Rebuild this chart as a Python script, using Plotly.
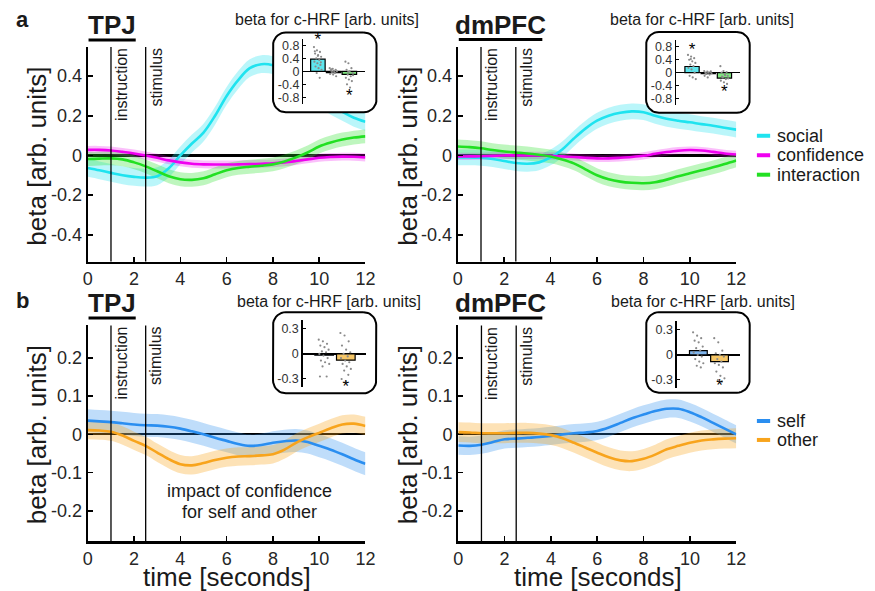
import numpy as np
import plotly.graph_objects as go

W, H = 875, 591
FONT = "Arial, 'Liberation Sans', Helvetica, sans-serif"
TXT = "#1a1a1a"

# ---------------- data ----------------
TIME = [i * 0.5 for i in range(25)]  # seconds, 0..12

# panel a, TPJ
a_tpj_social = [-0.063, -0.075, -0.088, -0.100, -0.108, -0.112, -0.105, -0.065, 0.000, 0.060, 0.115, 0.200,
                0.300, 0.380, 0.440, 0.460, 0.455, 0.430, 0.390, 0.340, 0.290, 0.250, 0.220, 0.190, 0.170]
a_tpj_conf = [0.028, 0.028, 0.025, 0.018, 0.010, 0.000, -0.012, -0.025, -0.035, -0.042, -0.045, -0.046,
              -0.046, -0.045, -0.044, -0.042, -0.040, -0.035, -0.028, -0.020, -0.012, -0.008, -0.006, -0.007, -0.010]
a_tpj_inter = [-0.018, -0.016, -0.015, -0.020, -0.035, -0.055, -0.080, -0.105, -0.120, -0.123, -0.115, -0.095,
               -0.075, -0.063, -0.057, -0.052, -0.045, -0.030, -0.010, 0.015, 0.045, 0.065, 0.080, 0.090, 0.096]
# panel a, dmPFC
a_dm_social = [-0.010, -0.010, -0.012, -0.018, -0.028, -0.038, -0.042, -0.035, -0.010, 0.030, 0.085, 0.135,
               0.175, 0.200, 0.215, 0.222, 0.218, 0.200, 0.185, 0.175, 0.167, 0.158, 0.150, 0.140, 0.130]
a_dm_conf = [-0.005, -0.005, -0.004, -0.002, 0.000, 0.000, 0.000, 0.000, -0.002, -0.005, -0.008, -0.012,
             -0.015, -0.015, -0.012, -0.008, -0.002, 0.008, 0.017, 0.024, 0.027, 0.025, 0.018, 0.010, 0.005]
a_dm_inter = [0.045, 0.042, 0.036, 0.027, 0.020, 0.015, 0.010, 0.003, -0.005, -0.020, -0.040, -0.070,
              -0.100, -0.120, -0.132, -0.138, -0.140, -0.135, -0.122, -0.105, -0.090, -0.075, -0.060, -0.043, -0.025]
# panel b, TPJ
b_tpj_self = [0.036, 0.034, 0.032, 0.029, 0.026, 0.024, 0.023, 0.020, 0.015, 0.008, 0.000, -0.009,
              -0.017, -0.025, -0.030, -0.028, -0.022, -0.018, -0.016, -0.020, -0.030, -0.040, -0.052, -0.065, -0.077]
b_tpj_other = [0.011, 0.010, 0.007, -0.003, -0.017, -0.030, -0.048, -0.065, -0.078, -0.081, -0.075, -0.067,
               -0.061, -0.058, -0.057, -0.055, -0.052, -0.040, -0.022, -0.008, 0.004, 0.016, 0.026, 0.028, 0.022]
# panel b, dmPFC
b_dm_self = [-0.029, -0.030, -0.027, -0.020, -0.013, -0.011, -0.009, -0.007, -0.004, 0.000, 0.003, 0.005,
             0.009, 0.018, 0.030, 0.042, 0.052, 0.061, 0.067, 0.067, 0.058, 0.045, 0.030, 0.015, 0.000]
b_dm_other = [0.006, 0.005, 0.003, 0.003, 0.003, 0.004, 0.004, 0.002, -0.002, -0.010, -0.022, -0.035,
              -0.048, -0.060, -0.068, -0.070, -0.064, -0.053, -0.039, -0.030, -0.022, -0.016, -0.013, -0.011, -0.010]

# standard-error half widths of the shaded bands
SE_A_TPJ = {"social": 0.045, "confidence": 0.02, "interaction": 0.035}
SE_A_DM = {"social": 0.04, "confidence": 0.018, "interaction": 0.035}
SE_B_TPJ = {"self": 0.03, "other": 0.024}
SE_B_DM = {"self": 0.024, "other": 0.026}

# inset bars (beta for c-HRF)
A_CATS = ["social", "confidence", "interaction"]
B_CATS = ["self", "other"]
a_tpj_bars = [0.38, -0.04, -0.09]
a_dm_bars = [0.19, -0.03, -0.17]
b_tpj_bars = [-0.015, -0.075]
b_dm_bars = [0.05, -0.08]

# individual subject betas in insets
a_tpj_dots = [
    [0.75, 0.65, 0.6, 0.55, 0.5, 0.45, 0.4, 0.35, 0.3, 0.25, 0.2, 0.15, 0.1, 0.05, -0.05, -0.2, 0.62, 0.48, 0.28],
    [0.1, 0.08, 0.05, 0.03, 0.02, 0.0, -0.02, -0.05, -0.08, -0.1, -0.15, 0.06, -0.03],
    [0.3, 0.25, 0.1, 0.05, 0.0, -0.05, -0.1, -0.15, -0.2, -0.25, -0.3, -0.4, -0.5, -0.12, -0.02],
]
a_dm_dots = [
    [0.55, 0.5, 0.45, 0.4, 0.35, 0.3, 0.25, 0.2, 0.15, 0.1, 0.0, -0.1, -0.15, -0.2, 0.42],
    [0.05, 0.03, 0.02, 0.0, 0.0, -0.02, -0.04, -0.06, -0.1, -0.15, 0.04, -0.03],
    [0.2, 0.05, 0.02, 0.0, -0.05, -0.1, -0.15, -0.2, -0.25, -0.3, -0.35, -0.12, -0.08, -0.18],
]
b_tpj_dots = [
    [0.17, 0.15, 0.12, 0.1, 0.08, 0.05, 0.03, 0.02, 0.0, -0.02, -0.05, -0.08, -0.1, -0.12, -0.15, -0.27, -0.27],
    [0.25, 0.22, 0.15, 0.1, 0.05, 0.02, 0.0, -0.03, -0.05, -0.08, -0.1, -0.12, -0.15, -0.18, -0.2, -0.25, -0.3, -0.33],
]
b_dm_dots = [
    [0.27, 0.23, 0.2, 0.17, 0.15, 0.1, 0.08, 0.05, 0.03, 0.0, -0.02, -0.05, -0.08, -0.1, -0.13, -0.15],
    [0.2, 0.15, 0.05, 0.02, 0.0, -0.02, -0.05, -0.08, -0.1, -0.12, -0.15, -0.2, -0.25, -0.28, -0.3, -0.32],
]
# significance stars: (bar index, y position)
a_tpj_stars = [(0, 0.93), (2, -0.78)]
a_dm_stars = [(0, 0.69), (2, -0.63)]
b_tpj_stars = [(1, -0.40)]
b_dm_stars = [(1, -0.38)]

A_YTICKS = [-0.4, -0.2, 0, 0.2, 0.4]
A_YTEXT = ["-0.4", "-0.2", "0", "0.2", "0.4"]
B_YTICKS = [-0.2, -0.1, 0, 0.1, 0.2]
B_YTEXT = ["-0.2", "-0.1", "0", "0.1", "0.2"]
XTICKS = [0, 2, 4, 6, 8, 10, 12]
INSET_A_TICKS = [-0.8, -0.4, 0, 0.4, 0.8]
INSET_A_TEXT = ["-0.8", "-0.4", "0", "0.4", "0.8"]
INSET_B_TICKS = [-0.3, 0, 0.3]
INSET_B_TEXT = ["-0.3", "0", "0.3"]
EVENTS = [(1.0, "instruction"), (2.5, "stimulus")]

# ---------------- styles ----------------
LINE = {"social": "#1fe3ef", "confidence": "#f000f0", "interaction": "#22e022",
        "self": "#2a8ef0", "other": "#f8a41c"}
BAND = {"social": "rgba(40,228,240,0.32)", "confidence": "rgba(240,0,240,0.25)",
        "interaction": "rgba(40,225,40,0.30)", "self": "rgba(42,142,240,0.30)",
        "other": "rgba(248,164,28,0.32)"}
BARFILL = {"social": "#5ee6ee", "confidence": "#e690e6", "interaction": "#80e680",
           "self": "#80b6ee", "other": "#f6c666"}


def px(x):
    return x / W


def py(y):
    return 1 - y / H


fig = go.Figure()

# ---------------- main panels ----------------
main_panels = [
    (1, [("social", a_tpj_social), ("confidence", a_tpj_conf), ("interaction", a_tpj_inter)], SE_A_TPJ),
    (2, [("social", a_dm_social), ("confidence", a_dm_conf), ("interaction", a_dm_inter)], SE_A_DM),
    (3, [("self", b_tpj_self), ("other", b_tpj_other)], SE_B_TPJ),
    (4, [("self", b_dm_self), ("other", b_dm_other)], SE_B_DM),
]
for n, series, se in main_panels:
    xa = "x" if n == 1 else f"x{n}"
    ya = "y" if n == 1 else f"y{n}"
    for name, vals in series:
        v = np.array(vals)
        fig.add_trace(go.Scatter(x=TIME, y=v + se[name], mode="lines", line=dict(width=0, shape="spline"),
                                 xaxis=xa, yaxis=ya, showlegend=False, hoverinfo="skip"))
        fig.add_trace(go.Scatter(x=TIME, y=v - se[name], mode="lines", line=dict(width=0, shape="spline"),
                                 fill="tonexty", fillcolor=BAND[name],
                                 xaxis=xa, yaxis=ya, showlegend=False, hoverinfo="skip"))
    for name, vals in series:
        fig.add_trace(go.Scatter(x=TIME, y=vals, mode="lines", line=dict(width=2.6, color=LINE[name], shape="spline"),
                                 xaxis=xa, yaxis=ya, name=name, showlegend=False))

# ---------------- overlay (pixel space) for boxes, legend lines, underlines ----------------
def rounded_box(x0, y0, x1, y1, r, n=10):
    xs, ys = [], []
    corners = [(x1 - r, y0 + r, -90, 0), (x1 - r, y1 - r, 0, 90), (x0 + r, y1 - r, 90, 180), (x0 + r, y0 + r, 180, 270)]
    for cx, cy, a0, a1 in corners:
        for a in np.linspace(np.radians(a0), np.radians(a1), n):
            xs.append(cx + r * np.cos(a))
            ys.append(cy + r * np.sin(a))
    xs.append(xs[0])
    ys.append(ys[0])
    return xs, ys


BOXES = [(272.7, 32.5, 378.0, 112.5), (652.3, 32.0, 757.7, 113.0),
         (272.7, 312.7, 377.7, 394.0), (652.3, 312.7, 757.7, 393.3)]
for b in BOXES:
    xs, ys = rounded_box(*b, r=13)
    fig.add_trace(go.Scatter(x=xs, y=ys, mode="lines", fill="toself", fillcolor="white",
                             line=dict(color="black", width=2), xaxis="x5", yaxis="y5",
                             showlegend=False, hoverinfo="skip"))

# underlines of region titles
for x0, x1, yy in [(85, 133, 40), (461.7, 546.7, 39.5), (85, 133, 318.5), (462, 546.7, 318.5)]:
    fig.add_trace(go.Scatter(x=[x0, x1], y=[yy, yy], mode="lines", line=dict(color="black", width=3),
                             xaxis="x5", yaxis="y5", showlegend=False, hoverinfo="skip"))

# legend samples
LEG_A = [("social", 136), ("confidence", 155.5), ("interaction", 175)]
LEG_B = [("self", 421.7), ("other", 440.7)]
for name, yy in LEG_A + LEG_B:
    fig.add_trace(go.Scatter(x=[765, 778.5], y=[yy, yy], mode="lines", line=dict(color=LINE[name], width=4),
                             xaxis="x5", yaxis="y5", showlegend=False, hoverinfo="skip"))

# ---------------- insets ----------------
insets = [
    (6, A_CATS, a_tpj_bars, a_tpj_dots, a_tpj_stars, 0.92),
    (7, A_CATS, a_dm_bars, a_dm_dots, a_dm_stars, 0.88),
    (8, B_CATS, b_tpj_bars, b_tpj_dots, b_tpj_stars, 0.86),
    (9, B_CATS, b_dm_bars, b_dm_dots, b_dm_stars, 0.84),
]
for n, cats, bars, dots, stars, bw in insets:
    xa, ya = f"x{n}", f"y{n}"
    pos = list(range(1, len(cats) + 1))
    fig.add_trace(go.Bar(x=pos, y=bars, width=bw, marker=dict(color=[BARFILL[c] for c in cats],
                                                              line=dict(color="black", width=1.2)),
                         xaxis=xa, yaxis=ya, showlegend=False, hoverinfo="skip"))
    for i, d in enumerate(dots):
        k = np.arange(len(d))
        off = ((k * 0.381966) % 1 - 0.5) * 0.5
        fig.add_trace(go.Scatter(x=pos[i] + off, y=d, mode="markers",
                                 marker=dict(size=2.2, color="#8a8a8a"),
                                 xaxis=xa, yaxis=ya, showlegend=False, hoverinfo="skip", cliponaxis=False))
    fig.add_trace(go.Scatter(x=[pos[i] for i, _ in stars], y=[s for _, s in stars], mode="text", text=["*"] * len(stars),
                             textfont=dict(size=17, color="black", family=FONT), textposition="middle center",
                             xaxis=xa, yaxis=ya, showlegend=False, hoverinfo="skip", cliponaxis=False))

# ---------------- layout ----------------
layout = dict(width=W, height=H, margin=dict(l=0, r=0, t=0, b=0), paper_bgcolor="white",
              plot_bgcolor="rgba(0,0,0,0)", font=dict(family=FONT, color=TXT), showlegend=False)

MAIN_GEOM = {
    1: ((84.3, 366.7), (47, 262), (-0.535, 0.547), A_YTICKS, A_YTEXT),
    2: ((460.7, 744.0), (47, 262), (-0.535, 0.547), A_YTICKS, A_YTEXT),
    3: ((84.3, 366.7), (326, 542.3), (-0.28, 0.285), B_YTICKS, B_YTEXT),
    4: ((461.2, 744.0), (326, 542.3), (-0.28, 0.285), B_YTICKS, B_YTEXT),
}
for n, (xd, yd, yr, yt, ytt) in MAIN_GEOM.items():
    sx = "" if n == 1 else str(n)
    layout[f"xaxis{sx}"] = dict(domain=[px(xd[0]), px(xd[1])], range=[0, 12], anchor=f"y{sx}",
                                tickvals=XTICKS, ticks="inside", ticklen=5, tickwidth=1.6, tickcolor="black",
                                showline=True, linecolor="black", linewidth=2.2, showgrid=False, zeroline=False,
                                tickfont=dict(size=18, color="#262626"), fixedrange=True)
    layout[f"yaxis{sx}"] = dict(domain=[py(yd[1]), py(yd[0])], range=list(yr), anchor=f"x{sx}",
                                tickvals=yt, ticktext=ytt, ticks="inside", ticklen=5, tickwidth=1.6,
                                tickcolor="black", showline=True, linecolor="black", linewidth=2.2,
                                showgrid=False, zeroline=True, zerolinecolor="black", zerolinewidth=2.2,
                                tickfont=dict(size=18, color="#262626"), fixedrange=True)

layout["xaxis5"] = dict(domain=[0, 1], range=[0, W], anchor="y5", visible=False, fixedrange=True)
layout["yaxis5"] = dict(domain=[0, 1], range=[H, 0], anchor="x5", visible=False, fixedrange=True)

INSET_GEOM = {
    6: ((303.3, 366.7), (39, 104), (0.06, 4.02), (-1, 1), INSET_A_TICKS, INSET_A_TEXT),
    7: ((682.7, 748.3), (40.5, 105), (0.01, 3.99), (-1, 1), INSET_A_TICKS, INSET_A_TEXT),
    8: ((302.7, 367.7), (321, 388), (0.0, 2.95), (-0.4, 0.4), INSET_B_TICKS, INSET_B_TEXT),
    9: ((683.3, 748.3), (322, 389), (-0.03, 2.99), (-0.4, 0.4), INSET_B_TICKS, INSET_B_TEXT),
}
for n, (xd, yd, xr, yr, yt, ytt) in INSET_GEOM.items():
    layout[f"xaxis{n}"] = dict(domain=[px(xd[0]), px(xd[1])], range=list(xr), anchor=f"y{n}", visible=False,
                               fixedrange=True)
    layout[f"yaxis{n}"] = dict(domain=[py(yd[1]), py(yd[0])], range=list(yr), anchor=f"x{n}",
                               tickvals=yt, ticktext=ytt, ticks="inside", ticklen=3, tickwidth=1,
                               tickcolor="black", showline=True, linecolor="black", linewidth=1.2,
                               showgrid=False, zeroline=True, zerolinecolor="black", zerolinewidth=1.6,
                               tickfont=dict(size=12.5, color="#333333"), fixedrange=True)

fig.update_layout(**layout)

# event lines
shapes = []
annotations = []
for n in (1, 2, 3, 4):
    sx = "" if n == 1 else str(n)
    top_px = MAIN_GEOM[n][1][0]
    for tx, label in EVENTS:
        shapes.append(dict(type="line", xref=f"x{sx}", yref=f"y{sx} domain", x0=tx, x1=tx, y0=0, y1=1,
                           line=dict(color="black", width=1.3), layer="above"))
        annotations.append(dict(text=label, xref=f"x{sx}", yref="paper", x=tx, y=py(top_px - 1),
                                xanchor="left", yanchor="top", textangle=-90, showarrow=False, xshift=0,
                                font=dict(size=16, color=TXT)))


def ann(text, x, y, size, bold=False, angle=0, xanchor="center"):
    annotations.append(dict(text=f"<b>{text}</b>" if bold else text, xref="paper", yref="paper",
                            x=px(x), y=py(y), xanchor=xanchor, yanchor="middle", showarrow=False,
                            textangle=angle, font=dict(size=size, color=TXT, family=FONT)))


ann("a", 18, 20, 22, bold=True)
ann("b", 18, 301, 22, bold=True)
for cx, cy in [(109, 25), (109, 304)]:
    ann("TPJ", cx, cy, 26, bold=True)
for cx, cy in [(504, 25), (504, 304)]:
    ann("dmPFC", cx, cy, 26, bold=True)
for cx, cy in [(328, 20), (709.5, 20), (329.3, 302), (710.5, 302)]:
    ann("beta for c-HRF [arb. units]", cx, cy, 16)
for cx, cy in [(32.5, 156), (410, 156), (32.5, 435), (410, 435)]:
    ann("beta [arb. units]", cx, cy, 26, angle=-90)
for cx in (225.5, 603):
    ann("time [seconds]", cx, 578, 26)
ann("impact of confidence", 248.5, 492, 18)
ann("for self and other", 248.5, 513, 18)
for name, yy in LEG_A + LEG_B:
    ann(name, 783, yy, 18, xanchor="left")

fig.update_layout(shapes=shapes, annotations=annotations)
fig.write_html("out.html", config={"displayModeBar": False, "staticPlot": True},
               post_script="document.body.style.margin='0';document.body.style.padding='0';"
                           "document.body.style.overflow='hidden';")
